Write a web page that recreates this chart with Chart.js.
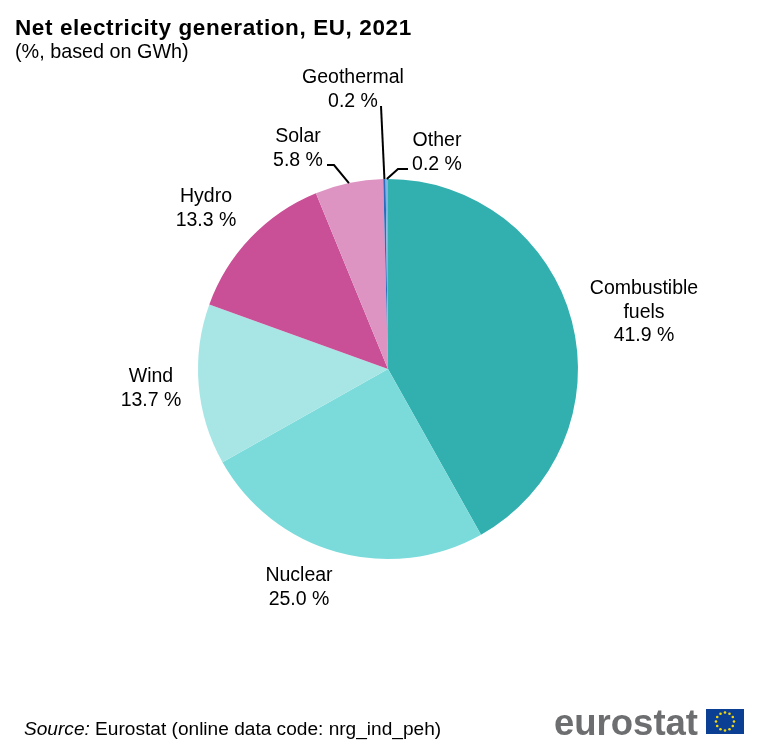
<!DOCTYPE html>
<html>
<head>
<meta charset="utf-8">
<title>Net electricity generation, EU, 2021</title>
<script src="https://cdn.jsdelivr.net/npm/chart.js@4"></script>
<style>
    html, body { margin: 0; padding: 0; background: #fff; }
    #wrap { position: relative; width: 769px; height: 749px; overflow: hidden; font-family: "Liberation Sans", Arial, sans-serif; color: #000; }
    #pie { position: absolute; left: 0; top: 0; }
    .txt { position: absolute; white-space: nowrap; }
    #title { left: 15px; top: 14px; font-size: 22.5px; font-weight: bold; line-height: 28px; letter-spacing: 0.6px; }
    #subtitle { left: 15px; top: 40px; font-size: 19.8px; line-height: 22px; }
    #source { left: 24px; top: 717px; font-size: 19.1px; line-height: 24px; }
    #wordmark { left: 554px; top: 700px; font-size: 36.5px; font-weight: bold; color: #6d6e70; line-height: 46px; }
    #flag { position: absolute; left: 706px; top: 709px; }
</style>
</head>
<body>
<div id="wrap">
    <canvas id="pie" width="769" height="749"></canvas>
    <div class="txt" id="title">Net electricity generation, EU, 2021</div>
    <div class="txt" id="subtitle">(%, based on GWh)</div>
    <div class="txt" id="source"><i>Source:</i> Eurostat (online data code: nrg_ind_peh)</div>
    <div class="txt" id="wordmark">eurostat</div>
    <svg id="flag" width="38" height="25"></svg>
</div>
<script>
const categories = ["Combustible fuels", "Nuclear", "Wind", "Hydro", "Solar", "Geothermal", "Other"];
const shares = [41.9, 25.0, 13.7, 13.3, 5.8, 0.2, 0.2];
const sliceColors = ["#32B0B0", "#7BDBDB", "#A8E6E6", "#C94F96", "#DE94C2", "#2A6EBB", "#7FB2E5"];

// label layout: centre x, y of first baseline, lines of the name
const labelSpots = [
    { x: 644, y: 294, name: ["Combustible", "fuels"] },
    { x: 299, y: 581, name: ["Nuclear"] },
    { x: 151, y: 382, name: ["Wind"] },
    { x: 206, y: 202, name: ["Hydro"] },
    { x: 298, y: 142, name: ["Solar"] },
    { x: 353, y: 83, name: ["Geothermal"] },
    { x: 437, y: 146, name: ["Other"] }
];
// leader lines, only for the thin slices: elbow and end point
const leaders = {
    4: [[334, 165], [327, 165]],
    5: [[381, 106]],
    6: [[398, 169], [408, 169]]
};

const pieLabels = {
    id: "pieLabels",
    afterDatasetsDraw(chart) {
        const ctx = chart.ctx;
        const arcs = chart.getDatasetMeta(0).data;
        ctx.save();
        ctx.strokeStyle = "#000";
        ctx.lineWidth = 2;
        for (const i in leaders) {
            const a = arcs[i];
            const mid = (a.startAngle + a.endAngle) / 2;
            ctx.beginPath();
            ctx.moveTo(a.x + Math.cos(mid) * a.outerRadius, a.y + Math.sin(mid) * a.outerRadius);
            leaders[i].forEach(p => ctx.lineTo(p[0], p[1]));
            ctx.stroke();
        }
        ctx.fillStyle = "#000";
        ctx.font = '19.5px "Liberation Sans", Arial, sans-serif';
        ctx.textAlign = "center";
        ctx.textBaseline = "alphabetic";
        labelSpots.forEach((s, i) => {
            const lines = s.name.concat(shares[i].toFixed(1) + " %");
            lines.forEach((t, n) => ctx.fillText(t, s.x, s.y + n * 23.5));
        });
        ctx.restore();
    }
};

new Chart(document.getElementById("pie"), {
    type: "pie",
    data: {
        labels: categories,
        datasets: [{
            data: shares,
            backgroundColor: sliceColors,
            borderWidth: 0
        }]
    },
    options: {
        responsive: false,
        animation: false,
        layout: { padding: { left: 198, right: 191, top: 179, bottom: 190 } },
        plugins: {
            legend: { display: false },
            tooltip: { enabled: false }
        }
    },
    plugins: [pieLabels]
});

// EU flag with its twelve stars
const flag = document.getElementById("flag");
let flagMarkup = '<rect width="38" height="25" fill="#0b3f94"/>';
for (let i = 0; i < 12; i++) {
    const ang = i * Math.PI / 6;
    const cx = 19 + Math.cos(ang) * 9;
    const cy = 12.5 + Math.sin(ang) * 9;
    flagMarkup += `<circle cx="${cx}" cy="${cy}" r="1.3" fill="#f5d90a"/>`;
}
flag.innerHTML = flagMarkup;
</script>
</body>
</html>
